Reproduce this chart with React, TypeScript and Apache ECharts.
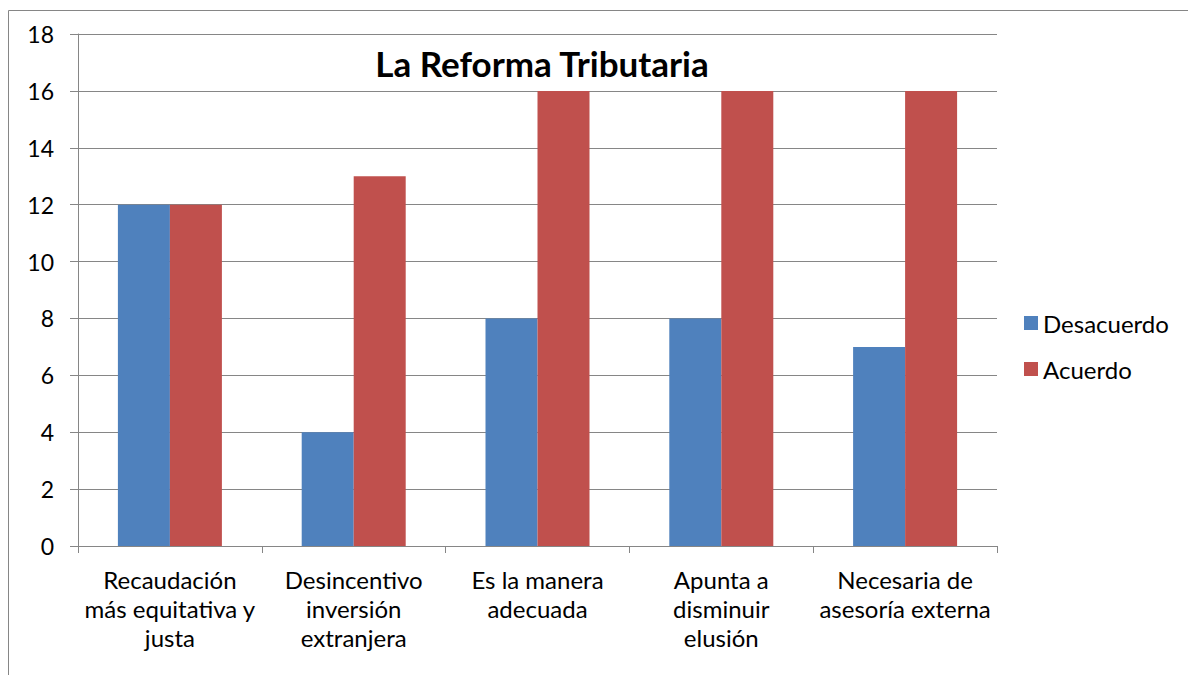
import React, { useEffect, useRef } from "react";
import * as echarts from "echarts";

const categories = [
  "Recaudación\nmás equitativa y\njusta",
  "Desincentivo\ninversión\nextranjera",
  "Es la manera\nadecuada",
  "Apunta a\ndisminuir\nelusión",
  "Necesaria de\nasesoría externa",
];
const desacuerdo = [12, 4, 8, 8, 7];
const acuerdo = [12, 13, 16, 16, 16];
const titleText = "La Reforma Tributaria";
const FONT = "Lato, 'Noto Sans', sans-serif";

export default function App() {
  const ref = useRef<HTMLDivElement>(null);
  useEffect(() => {
    if (!ref.current) return;
    const chart = echarts.init(ref.current, undefined, { renderer: "svg" });
    chart.setOption({
      animation: false,
      backgroundColor: "#ffffff",
      title: {
        text: titleText,
        left: 537,
        textAlign: "center",
        top: 40,
        textStyle: { fontFamily: FONT, fontSize: 35, fontWeight: "bold", color: "#000" },
      },
      legend: {
        orient: "vertical",
        left: 1019,
        top: 306,
        itemWidth: 14,
        itemHeight: 14,
        itemGap: 22,
        itemStyle: { borderWidth: 0 },
        icon: "rect",
        textStyle: { fontFamily: FONT, fontSize: 24, color: "#000", padding: [0, 0, 0, 0] },
        data: ["Desacuerdo", "Acuerdo"],
      },
      graphic: [
        {
          type: "rect",
          shape: { x: 8.5, y: 10.5, width: 1300, height: 800 },
          style: { fill: "none", stroke: "#868686", lineWidth: 1 },
          silent: true,
        },
      ],
      grid: { left: 78, right: 191, top: 34, bottom: 129 },
      xAxis: {
        type: "category",
        data: categories,
        axisLine: { show: true, lineStyle: { color: "#868686" } },
        axisTick: { show: true, length: 7, lineStyle: { color: "#868686" } },
        axisLabel: {
          fontFamily: FONT,
          fontSize: 24,
          lineHeight: 29,
          color: "#000",
          margin: 19,
          interval: 0,
        },
      },
      yAxis: {
        type: "value",
        min: 0,
        max: 18,
        interval: 2,
        axisLine: { show: true, lineStyle: { color: "#868686" } },
        axisTick: { show: true, length: 8, lineStyle: { color: "#868686" } },
        splitLine: { show: true, lineStyle: { color: "#868686" } },
        axisLabel: { fontFamily: FONT, fontSize: 23, color: "#000", margin: 24 },
      },
      series: [
        {
          name: "Desacuerdo",
          type: "bar",
          data: desacuerdo,
          barWidth: 52,
          barGap: "0%",
          itemStyle: { color: "#4F81BD" },
        },
        {
          name: "Acuerdo",
          type: "bar",
          data: acuerdo,
          barWidth: 52,
          itemStyle: { color: "#C0504D" },
        },
      ],
    });
    return () => chart.dispose();
  }, []);
  return (
    <div style={{ position: "fixed", left: 0, top: 0, width: 1188, height: 675, overflow: "hidden", background: "#fff" }}>
      <div ref={ref} style={{ width: 1188, height: 675 }} />
    </div>
  );
}
